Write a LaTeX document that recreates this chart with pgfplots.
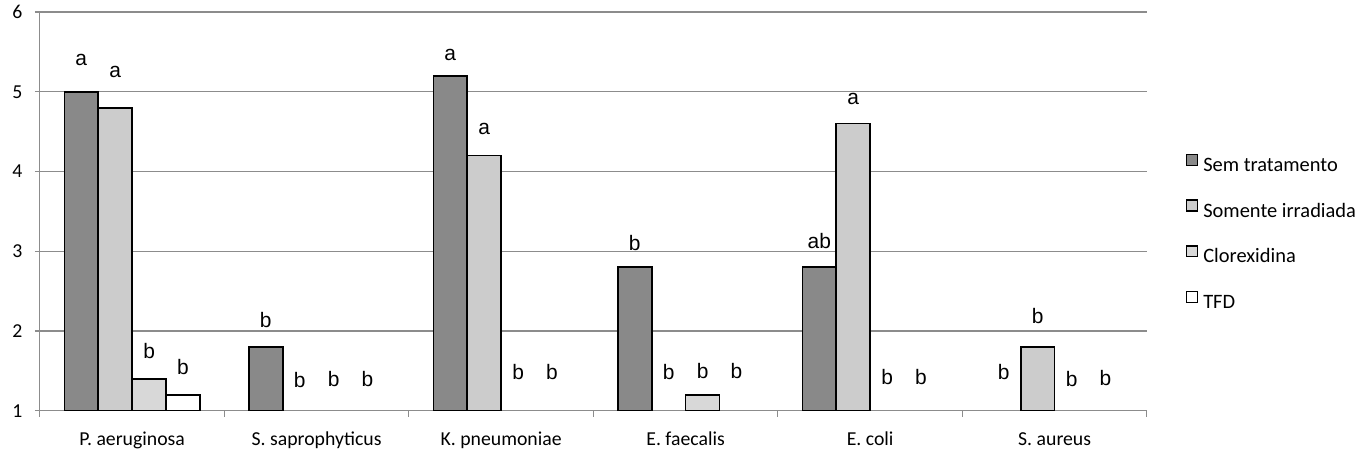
\documentclass[border=0pt]{standalone}
\usepackage{fontspec}
\setmainfont{Carlito}
\newfontfamily\arial{Liberation Sans}
\usepackage{pgfplots}
\pgfplotsset{compat=1.18}
\definecolor{semcol}{RGB}{137,137,137}
\definecolor{somcol}{RGB}{204,204,204}
\definecolor{clorcol}{RGB}{216,216,216}
\definecolor{axgray}{RGB}{140,140,140}
\newcommand\tfont{\fontsize{19.8}{23}\selectfont}
\newcommand\legfont{\fontsize{20.5}{24}\selectfont}
\newcommand\lfont{\arial\fontsize{21}{24}\selectfont}
\begin{document}
\begin{tikzpicture}
\begin{axis}[
  scale only axis, width=1110pt, height=400pt,
  xmin=-0.5, xmax=5.5, ymin=1, ymax=6,
  ybar, bar width=0.1838,
  axis lines*=left,
  axis line style={draw=axgray, line width=1.2pt},
  ytick={1,...,6},
  ymajorgrids, grid style={draw=axgray, line width=1.2pt},
  xtick={0,...,5},
  xticklabels={P. aeruginosa, S. saprophyticus, K. pneumoniae, E. faecalis, E. coli, S. aureus},
  major x tick style={draw=none},
  minor xtick={-0.5,0.5,...,5.5},
  minor x tick style={draw=axgray, line width=1.2pt},
  major y tick style={draw=axgray, line width=1.2pt},
  tick align=outside, major tick length=5pt, minor tick length=6pt,
  /pgf/number format/assume math mode=true,
  ticklabel style={font=\tfont},
  xticklabel style={anchor=base, yshift=-30pt},
  yticklabel style={xshift=-9pt},
  legend style={at={(axis description cs:1.0350,0.645)}, anchor=north west,
    draw=none, fill=none, inner sep=0pt, font=\legfont,
    nodes={inner sep=0pt, text height=14pt, text depth=4pt},
    row sep=24pt,
    /tikz/every odd column/.append style={column sep=5pt}},
  legend cell align=left,
  legend image code/.code={\draw[#1, line width=1.5pt] (0pt,1pt) rectangle (11pt,12pt);},
]
\addplot[fill=semcol, draw=black, line width=1.6pt, bar shift=-0.2757]
  coordinates {(0,5.0) (1,1.8) (2,5.2) (3,2.8) (4,2.8)};
\addlegendentry{Sem tratamento}
\addplot[fill=somcol, draw=black, line width=1.6pt, bar shift=-0.0919]
  coordinates {(0,4.8) (2,4.2) (4,4.6) (5,1.8)};
\addlegendentry{Somente irradiada}
\addplot[fill=clorcol, draw=black, line width=1.6pt, bar shift=0.0919]
  coordinates {(0,1.4) (3,1.2)};
\addlegendentry{Clorexidina}
\addplot[fill=white, draw=black, line width=1.6pt, bar shift=0.2757]
  coordinates {(0,1.2)};
\addlegendentry{TFD}
% letter labels
\addplot[forget plot, draw=none, fill=none, bar shift=-0.2757, nodes near coords, point meta=explicit symbolic,
  every node near coord/.append style={anchor=center, font=\lfont, inner sep=0pt}]
  coordinates {(0,5.40)[a] (1,2.14)[b] (2,5.46)[a] (3,3.11)[b] (4,3.13)[ab] (5,1.49)[b]};
\addplot[forget plot, draw=none, fill=none, bar shift=-0.0919, nodes near coords, point meta=explicit symbolic,
  every node near coord/.append style={anchor=center, font=\lfont, inner sep=0pt}]
  coordinates {(0,5.25)[a] (1,1.39)[b] (2,4.53)[a] (3,1.49)[b] (4,4.91)[a] (5,2.19)[b]};
\addplot[forget plot, draw=none, fill=none, bar shift=0.0919, nodes near coords, point meta=explicit symbolic,
  every node near coord/.append style={anchor=center, font=\lfont, inner sep=0pt}]
  coordinates {(0,1.75)[b] (1,1.40)[b] (2,1.49)[b] (3,1.50)[b] (4,1.42)[b] (5,1.40)[b]};
\addplot[forget plot, draw=none, fill=none, bar shift=0.2757, nodes near coords, point meta=explicit symbolic,
  every node near coord/.append style={anchor=center, font=\lfont, inner sep=0pt}]
  coordinates {(0,1.55)[b] (1,1.40)[b] (2,1.49)[b] (3,1.50)[b] (4,1.42)[b] (5,1.41)[b]};
\end{axis}
\path ([shift={(-40pt,-47pt)}]current axis.south west) rectangle ([shift={(206pt,12pt)}]current axis.north east);
\end{tikzpicture}
\end{document}
